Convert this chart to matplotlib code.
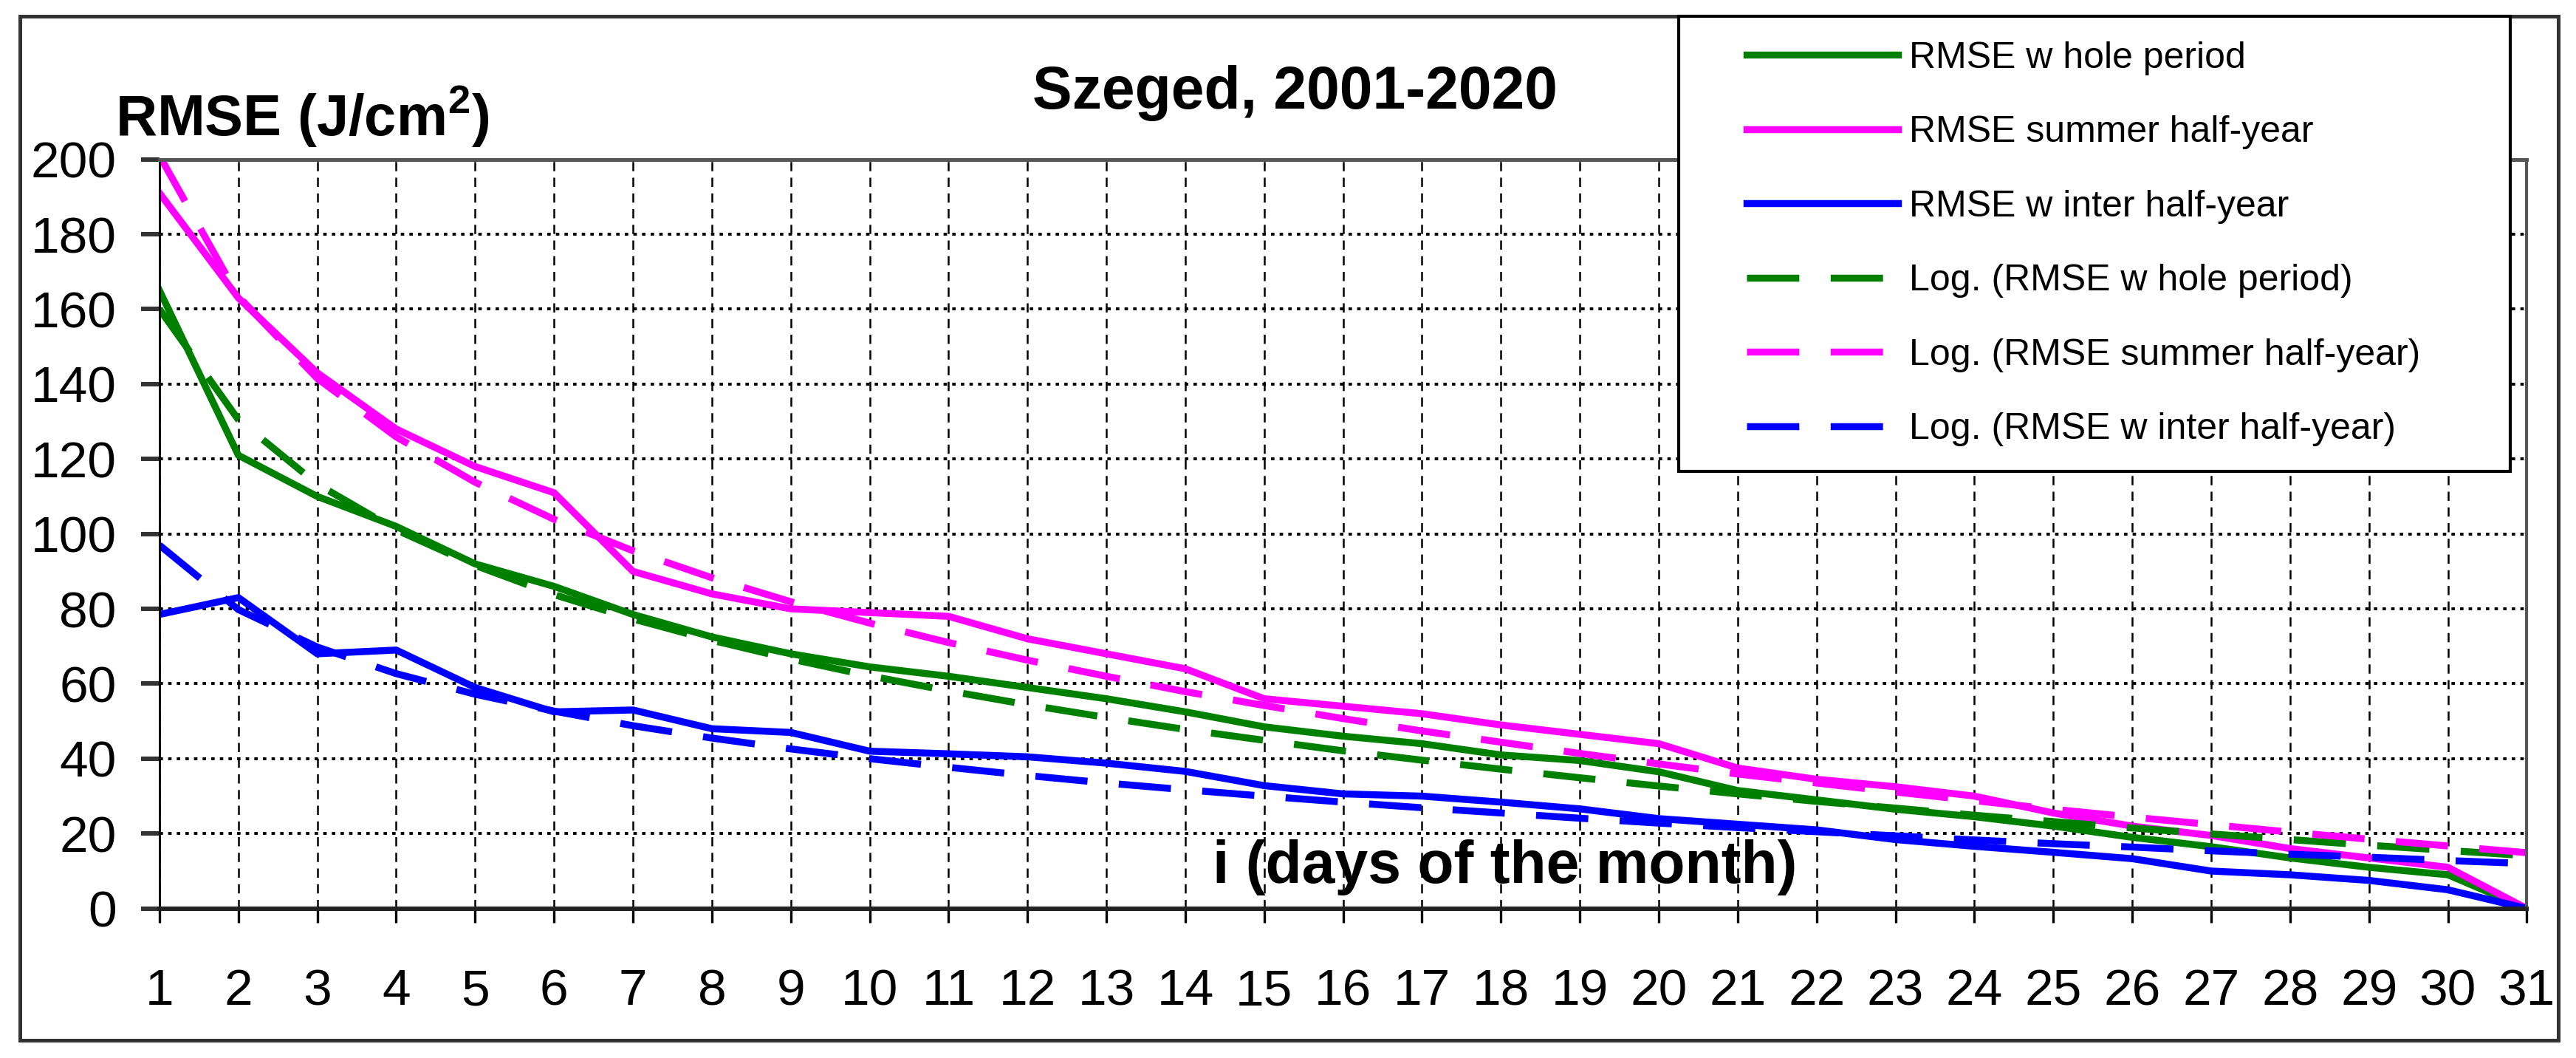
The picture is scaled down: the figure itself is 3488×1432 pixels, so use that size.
import matplotlib
matplotlib.use("Agg")
import matplotlib.pyplot as plt
from matplotlib.patches import Rectangle
from matplotlib.lines import Line2D

# days of the month
days = list(range(1, 32))

# RMSE (J/cm2)
rmse_whole = [165, 121, 110, 102, 92, 86, 78.5, 72.5, 68, 64.5,
              62, 59, 56, 52.5, 48.5, 46, 44, 41, 39.5, 36.5,
              31.5, 29, 26.5, 24.5, 22, 19, 16.5, 13.5, 11, 9, 0]
rmse_summer = [191, 163, 143, 128, 118, 111, 90, 84, 80, 79,
               78, 72, 68, 64, 56, 54, 52, 49, 46.5, 44,
               37.5, 34.5, 32.5, 30, 25.5, 22, 19.5, 16, 13.5, 11, 0]
rmse_winter = [78.5, 83, 68, 69, 59, 52.5, 53, 48, 47, 42,
               41.3, 40.5, 38.8, 36.6, 32.8, 30.6, 30, 28.4, 26.6, 24,
               22.5, 21, 18.4, 16.6, 15, 13.3, 10, 9, 7.5, 5, 0]

# logarithmic trend lines (dashed)
log_whole = [160, 130.5, 113.3, 101.1, 91.6, 83.8, 77.3, 71.6, 66.6, 62.1,
             58.1, 54.4, 51.0, 47.8, 44.9, 42.1, 39.6, 37.2, 34.9, 32.7,
             30.6, 28.6, 26.8, 24.9, 23.2, 21.5, 19.9, 18.4, 16.9, 15.5, 14.1]
log_summer = [201, 163.4, 141.5, 125.9, 113.8, 103.9, 95.5, 88.3, 81.9, 76.2,
              71.0, 66.3, 62.0, 57.9, 54.2, 50.7, 47.4, 44.4, 41.4, 38.6,
              35.9, 33.5, 31.1, 28.8, 26.5, 24.4, 22.4, 20.4, 18.5, 16.7, 14.9]
log_winter = [97, 79.8, 69.8, 62.7, 57.2, 52.7, 48.8, 45.5, 42.6, 40.0,
              37.7, 35.5, 33.5, 31.7, 30.0, 28.4, 26.9, 25.5, 24.1, 22.8,
              21.6, 20.5, 19.4, 18.3, 17.3, 16.4, 15.4, 14.5, 13.7, 12.8, 12.0]

labels = ['RMSE w hole period', 'RMSE summer half-year', 'RMSE w inter half-year',
          'Log. (RMSE w hole period)', 'Log. (RMSE summer half-year)',
          'Log. (RMSE w inter half-year)']

plt.rcParams['font.family'] = ['Liberation Sans', 'DejaVu Sans']
plt.rcParams['mathtext.fontset'] = 'custom'
plt.rcParams['mathtext.rm'] = 'Liberation Sans'
plt.rcParams['mathtext.bf'] = 'Liberation Sans:bold'

GREEN = '#008000'
MAGENTA = '#FF00FF'
BLUE = '#0000FF'
LW = 3.4
DASH = (7.5, 4.5)

fig = plt.figure(figsize=(17.44, 7.16), dpi=200)
ax = fig.add_axes([0.0619, 0.1413, 0.9190, 0.7081])

# solid series
ax.plot(days, rmse_whole, color=GREEN, lw=LW, solid_joinstyle='round')
ax.plot(days, rmse_summer, color=MAGENTA, lw=LW, solid_joinstyle='round')
ax.plot(days, rmse_winter, color=BLUE, lw=LW, solid_joinstyle='round')
# trend lines
ax.plot(days, log_whole, color=GREEN, lw=LW, dashes=DASH)
ax.plot(days, log_summer, color=MAGENTA, lw=LW, dashes=DASH)
ax.plot(days, log_winter, color=BLUE, lw=LW, dashes=DASH)

ax.set_xlim(1, 31)
ax.set_ylim(0, 200)
ax.set_xticks(days)
ax.set_yticks(range(0, 201, 20))
ax.tick_params(axis='x', direction='out', length=7, width=1.2, pad=22, labelsize=25)
ax.tick_params(axis='y', direction='out', length=9, width=2.2, color='#333333', pad=12, labelsize=25)

ax.grid(axis='x', color='black', linestyle=(0, (5, 3.5)), lw=0.9)
ax.grid(axis='y', color='black', linestyle=(0, (1.2, 1.8)), lw=1.4)
ax.set_axisbelow(True)

ax.spines['left'].set_linewidth(1.0)
ax.spines['left'].set_color('black')
ax.spines['bottom'].set_linewidth(2.2)
ax.spines['bottom'].set_color('#222222')
ax.spines['top'].set_linewidth(1.8)
ax.spines['top'].set_color('#555555')
ax.spines['right'].set_linewidth(1.5)
ax.spines['right'].set_color('#555555')

ax.text(14.35, 11, 'i (days of the month)', fontsize=29, fontweight='bold',
        va='center', ha='left')

fig.text(0.0446, 0.890, r'RMSE (J/cm$^\mathbf{2}$)', fontsize=28, fontweight='bold',
         va='center', ha='left')
fig.text(0.5026, 0.912, 'Szeged, 2001-2020', fontsize=29, fontweight='bold',
         va='center', ha='center')

# outer frame
fig.add_artist(Rectangle((0.00765, 0.0171), 0.9855, 0.9674, transform=fig.transFigure,
                         fill=False, ec='#333333', lw=1.8))
# legend box
fig.add_artist(Rectangle((0.6518, 0.5543), 0.3227, 0.4302, transform=fig.transFigure,
                         fc='white', ec='black', lw=1.5, zorder=3))

handles = [Line2D([], [], color=GREEN, lw=LW),
           Line2D([], [], color=MAGENTA, lw=LW),
           Line2D([], [], color=BLUE, lw=LW),
           Line2D([], [], color=GREEN, lw=LW, dashes=DASH),
           Line2D([], [], color=MAGENTA, lw=LW, dashes=DASH),
           Line2D([], [], color=BLUE, lw=LW, dashes=DASH)]
fig.legend(handles, labels, loc='upper left', bbox_to_anchor=(1063 / 1568, 0.961),
           frameon=False, fontsize=18, handlelength=4.1, handletextpad=0.3,
           labelspacing=1.09, borderpad=0, borderaxespad=0)

fig.savefig('out.png', dpi=200)
